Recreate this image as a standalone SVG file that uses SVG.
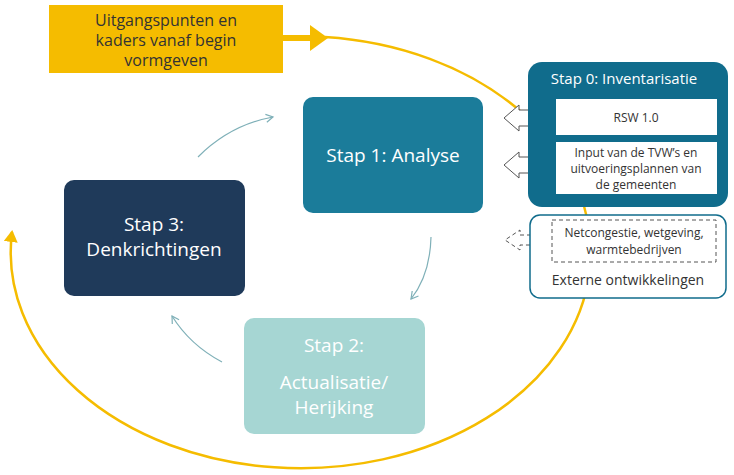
<svg xmlns="http://www.w3.org/2000/svg" width="734" height="475" viewBox="0 0 734 475">
<style>
text{font-family:"Open Sans","Noto Sans",sans-serif;text-anchor:middle}
.big{font-size:19px;fill:#fff}
.sm{font-size:12px;fill:#333}
.thin{fill:none;stroke:#7fb0b8;stroke-width:1.2;marker-end:url(#t)}
</style>
<defs>
<marker id="t" markerWidth="10" markerHeight="10" refX="8" refY="5" orient="auto" markerUnits="userSpaceOnUse"><path d="M1,1 L8,5 L1,9" fill="none" stroke="#7fb0b8" stroke-width="1.2"/></marker>
<marker id="y" markerWidth="14" markerHeight="14" refX="10" refY="7" orient="auto" markerUnits="userSpaceOnUse"><path d="M0,0 L12,7 L0,14 Z" fill="#f5bc00"/></marker>
</defs>
<g id="connectors">
<path d="M325,37 A290 216 0 1 1 12 232" fill="none" stroke="#f5bc00" stroke-width="2.5" marker-end="url(#y)"/>
<path d="M283,38 H312" stroke="#f5bc00" stroke-width="6"/>
<path d="M310,25 L328,38 L310,51 Z" fill="#f5bc00"/>
<path class="thin" d="M198,157 Q230,125 273,117"/>
<path class="thin" d="M431,237 Q430,275 411,299"/>
<path class="thin" d="M222,362 Q190,345 172,316"/>
<path d="M556,110 H519 V105 L504,118 L519,131 V126 H556" fill="#fff" stroke="#555" stroke-width="1"/>
<path d="M556,157 H519 V152 L504,165 L519,178 V173 H556" fill="#fff" stroke="#555" stroke-width="1"/>
<path d="M552,235 H520 V230 L505,240 L520,250 V245 H552" fill="none" stroke="#555" stroke-width="1" stroke-dasharray="4,3"/>
</g>
<g id="uitgang"><rect x="49" y="5" width="234" height="68" fill="#f5bc00"/>
<text x="166" y="26" font-size="16" fill="#333">Uitgangspunten en</text>
<text x="166" y="46" font-size="16" fill="#333">kaders vanaf begin</text>
<text x="166" y="66" font-size="16" fill="#333">vormgeven</text></g>
<g id="stap1"><rect x="303" y="97" width="180" height="116" rx="10" fill="#1b7c9a"/>
<text class="big" x="393" y="162">Stap 1: Analyse</text></g>
<g id="stap3"><rect x="64" y="180" width="181" height="116" rx="10" fill="#1f3a5a"/>
<text class="big" x="154" y="231">Stap 3:</text><text class="big" x="154" y="256">Denkrichtingen</text></g>
<g id="stap2"><rect x="244" y="318" width="181" height="116" rx="10" fill="#a6d6d3"/>
<text class="big" x="334" y="352">Stap 2:</text><text class="big" x="334" y="389">Actualisatie/</text><text class="big" x="334" y="414">Herijking</text></g>
<g id="stap0"><rect x="528" y="62" width="200" height="145" rx="14" fill="#106c8c"/>
<text x="624" y="84" font-size="15" fill="#fff">Stap 0: Inventarisatie</text>
<rect x="556" y="99" width="161" height="36" fill="#fff"/><text class="sm" x="636" y="122" font-size="13">RSW 1.0</text>
<rect x="556" y="142" width="161" height="52" fill="#fff"/>
<text class="sm" x="636" y="157">Input van de TVW’s en</text><text class="sm" x="636" y="173">uitvoeringsplannen van</text><text class="sm" x="636" y="189">de gemeenten</text></g>
<g id="extern"><rect x="530" y="215" width="196" height="83" rx="10" fill="#fff" stroke="#106c8c" stroke-width="1.5"/>
<rect x="552" y="220" width="164" height="42" fill="none" stroke="#555" stroke-dasharray="4,3"/>
<text class="sm" x="634" y="237" font-size="11">Netcongestie, wetgeving,</text><text class="sm" x="634" y="254" font-size="11">warmtebedrijven</text>
<text x="628" y="285" font-size="14" fill="#333">Externe ontwikkelingen</text></g>
</svg>
